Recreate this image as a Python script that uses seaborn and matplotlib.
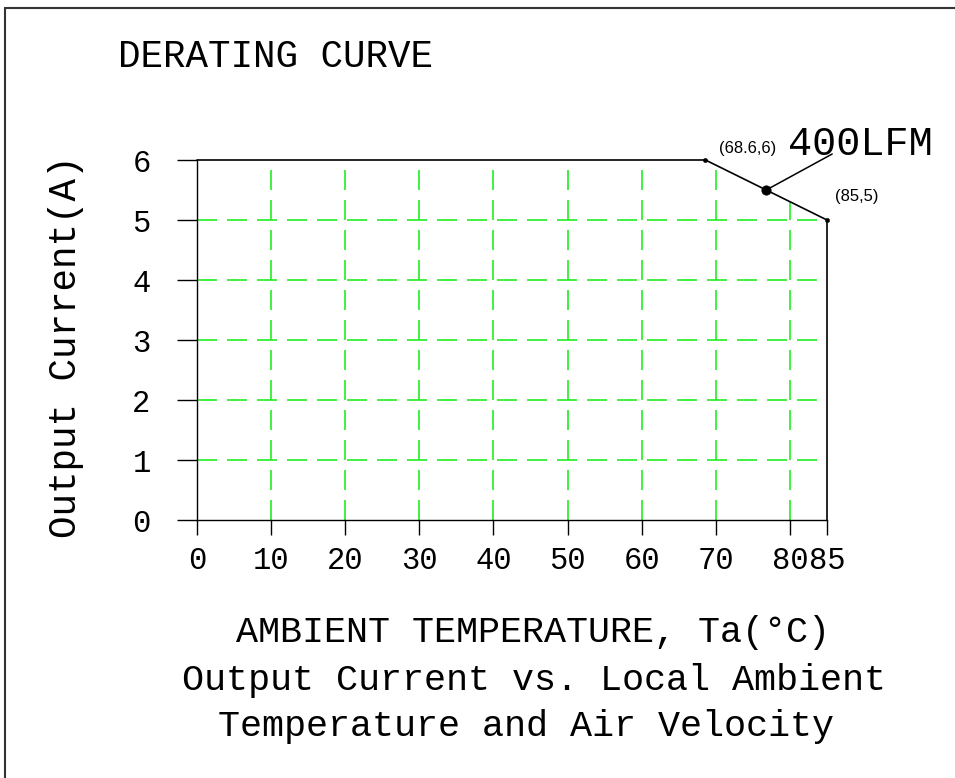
import numpy as np
import seaborn as sns
import matplotlib.pyplot as plt
from matplotlib.lines import Line2D

sns.set_style("white")
plt.rcParams['font.family'] = ['Liberation Mono', 'DejaVu Sans Mono', 'DejaVu Sans']
plt.rcParams['text.color'] = 'black'
plt.rcParams['axes.labelcolor'] = 'black'

# derating curve: flat at 6 A up to 68.6 C, then down to 5 A at 85 C
curve_temp = [0, 68.6, 85, 85]
curve_curr = [6, 6, 5, 0]
corner_temp = [68.6, 85]
corner_curr = [6, 5]
corner_labels = ["(68.6,6)", "(85,5)"]
mid_temp = [76.8]
mid_curr = [5.5]
grid_x = [10, 20, 30, 40, 50, 60, 70, 80]
grid_y = [1, 2, 3, 4, 5]
x_ticks = [0, 10, 20, 30, 40, 50, 60, 70, 80, 85]
y_ticks = [0, 1, 2, 3, 4, 5, 6]

W, H = 955, 778
fig = plt.figure(figsize=(W / 100, H / 100), dpi=100)
ax = fig.add_axes([197 / W, 1 - 520 / H, 630 / W, 360 / H])

green = "#22ee22"
# grid lines stop where they meet the curve
top = np.minimum(6, np.interp(grid_x, curve_temp[:3], curve_curr[:3]))
ax.vlines(grid_x, 0, top, colors=green, linestyles=(0, (12, 6)), linewidth=1.2, zorder=1)
ax.hlines(grid_y, 0, 85, colors=green, linestyles=(0, (12, 6)), linewidth=1.2, zorder=1)

sns.lineplot(x=curve_temp, y=curve_curr, sort=False, estimator=None,
             color="black", linewidth=1.2, ax=ax, zorder=3)
sns.scatterplot(x=corner_temp, y=corner_curr, color="black", s=10,
                edgecolor="black", ax=ax, zorder=4)
sns.scatterplot(x=mid_temp, y=mid_curr, color="black", s=45,
                edgecolor="black", ax=ax, zorder=4)
for art in ax.lines + ax.collections:
    art.set_clip_on(False)

# leader to the air-velocity label
ax.plot([mid_temp[0], 85.7], [mid_curr[0], 6.1], color="black", lw=1.1,
        clip_on=False)
ax.text(79.8, 6.09, "400LFM", fontsize=29, va="baseline", ha="left")

small = ['Liberation Sans Narrow', 'Liberation Sans', 'DejaVu Sans']
ax.text(70.4, 6.2, corner_labels[0], fontsize=12, family=small, va="center")
ax.text(86.1, 5.4, corner_labels[1], fontsize=12, family=small, va="center")

ax.set_xlim(0, 85)
ax.set_ylim(0, 6)
ax.set_xticks(x_ticks)
ax.set_yticks(y_ticks)
ax.set_xticklabels([str(t) for t in x_ticks], fontsize=22)
ax.set_yticklabels([str(t) for t in y_ticks], fontsize=22)
ax.tick_params(axis="x", direction="out", length=10.8, width=1, pad=8, colors="black")
ax.tick_params(axis="y", direction="out", length=14.4, width=1, pad=19, colors="black")
ax.tick_params(bottom=True, left=True)
for side in ["top", "right"]:
    ax.spines[side].set_visible(False)
for side in ["left", "bottom"]:
    ax.spines[side].set_color("black")
    ax.spines[side].set_linewidth(1)

ax.set_ylabel("Output Current(A)", fontsize=27)
ax.yaxis.set_label_coords(-0.179, 0.48)

def px(x, y):
    return x / W, 1 - y / H

fig.text(*px(118, 57), "DERATING CURVE", fontsize=27, ha="left", va="center")
fig.text(*px(533, 633), "AMBIENT TEMPERATURE, Ta(°C)", fontsize=26.5, ha="center", va="center")
fig.text(*px(534, 680), "Output Current vs. Local Ambient", fontsize=26.5, ha="center", va="center")
fig.text(*px(526, 727), "Temperature and Air Velocity", fontsize=26.5, ha="center", va="center")

# page frame (left and top edges)
fig.add_artist(Line2D([5 / W, 5 / W], [0, 1 - 8 / H], color="#333333", lw=1.5))
fig.add_artist(Line2D([5 / W, 1], [1 - 8 / H, 1 - 8 / H], color="#333333", lw=1.5))

fig.savefig("out.png", dpi=100)
